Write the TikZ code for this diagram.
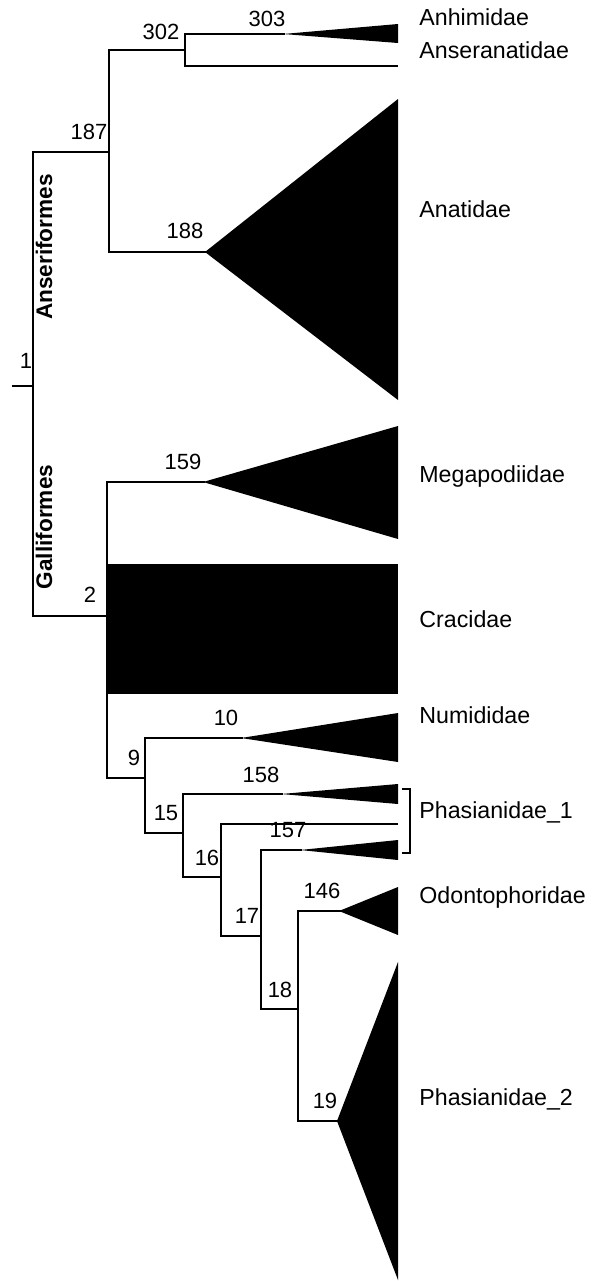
\documentclass[tikz,border=0pt]{standalone}
\usepackage{fontspec}
\setmainfont{Liberation Sans}
\usepackage{tikz}
\usetikzlibrary{positioning}

\begin{document}
\begin{tikzpicture}[
  x=0.5pt, y=-0.5pt,
  branch/.style={line width=1pt},
  num/.style={anchor=base, inner sep=0pt, font=\fontsize{11}{13}\selectfont},
  taxon/.style={anchor=base west, inner sep=0pt, font=\fontsize{11.6}{13}\selectfont},
  order/.style={rotate=90, inner sep=0pt, font=\fontsize{11.3}{13}\selectfont\bfseries}
]
  \useasboundingbox (0,0) rectangle (595,1281);

  % tree nodes
  \coordinate (r0) at (12,386);
  \coordinate (n1) at (33,386);
  \coordinate (n187) at (109,152);
  \coordinate (n302) at (185,50);
  \coordinate (n303) at (285,34);
  \coordinate (anser) at (398,66);
  \coordinate (n188) at (207,252);
  \coordinate (n2) at (107,616);
  \coordinate (n159) at (205,482);
  \coordinate (n9) at (145,778);
  \coordinate (n10) at (243,738);
  \coordinate (n15) at (183,833);
  \coordinate (n158) at (283,794);
  \coordinate (n16) at (221,877);
  \coordinate (phas) at (398,824);
  \coordinate (n17) at (261,936);
  \coordinate (n157) at (302,850);
  \coordinate (n18) at (298,1009);
  \coordinate (n146) at (341,911);
  \coordinate (n19) at (339,1121);

  \draw[branch] (r0) -- (n1);
  \draw[branch] (n1) |- (n187);
  \draw[branch] (n1) |- (n2);
  \draw[branch] (n187) |- (n302);
  \draw[branch] (n187) |- (n188);
  \draw[branch] (n302) |- (n303);
  \draw[branch] (n302) |- (anser);
  \draw[branch] (n2) |- (n159);
  \draw[branch] (n2) |- (n9);
  \draw[branch] (n9) |- (n10);
  \draw[branch] (n9) |- (n15);
  \draw[branch] (n15) |- (n158);
  \draw[branch] (n15) |- (n16);
  \draw[branch] (n16) |- (phas);
  \draw[branch] (n16) |- (n17);
  \draw[branch] (n17) |- (n157);
  \draw[branch] (n17) |- (n18);
  \draw[branch] (n18) |- (n146);
  \draw[branch] (n18) |- (n19);

  % collapsed clades
  \foreach \a/\t/\b in {n303/24/43, n188/99/400, n159/426/539, n10/713/762,
                        n158/784/804, n157/840/860, n146/887/935, n19/962/1280}
    \fill (\a) ++(-2,0) -- (398,\t) -- (398,\b) -- cycle;
  \fill (107,564) rectangle (398,694);

  % bracket
  \draw[line width=0.8pt] (402,789) -- (410,789) -- (410,853) -- (402,853);

  \node[num] (l1) at (26,368) {1};
  \node[num] (l187) at (89,139) {187};
  \node[num] (l302) at (161,39) {302};
  \node[num] (l303) at (267,26) {303};
  \node[num] (l188) at (185,238) {188};
  \node[num] (l159) at (183,469) {159};
  \node[num] (l2) at (90,602) {2};
  \node[num] (l10) at (226,725) {10};
  \node[num] (l9) at (134,765) {9};
  \node[num] (l158) at (261,782) {158};
  \node[num] (l15) at (166,820) {15};
  \node[num] (l157) at (288,837) {157};
  \node[num] (l16) at (207,865) {16};
  \node[num] (l146) at (322,898) {146};
  \node[num] (l17) at (247,923) {17};
  \node[num] (l18) at (280,997) {18};
  \node[num] (l19) at (325,1108) {19};

  \node[taxon] (t1) at (419,25) {Anhimidae};
  \node[taxon] (t2) at (419,58) {Anseranatidae};
  \node[taxon] (t3) at (419,217) {Anatidae};
  \node[taxon] (t4) at (419,482) {Megapodiidae};
  \node[taxon] (t5) at (419,627) {Cracidae};
  \node[taxon] (t6) at (419,723) {Numididae};
  \node[taxon] (t7) at (419,818) {Phasianidae\_1};
  \node[taxon] (t8) at (419,903) {Odontophoridae};
  \node[taxon] (t9) at (419,1105) {Phasianidae\_2};

  \node[order] (anseri) at (44,247) {Anseriformes};
  \node[order] (galli) at (44,527) {Galliformes};
\end{tikzpicture}
\end{document}
